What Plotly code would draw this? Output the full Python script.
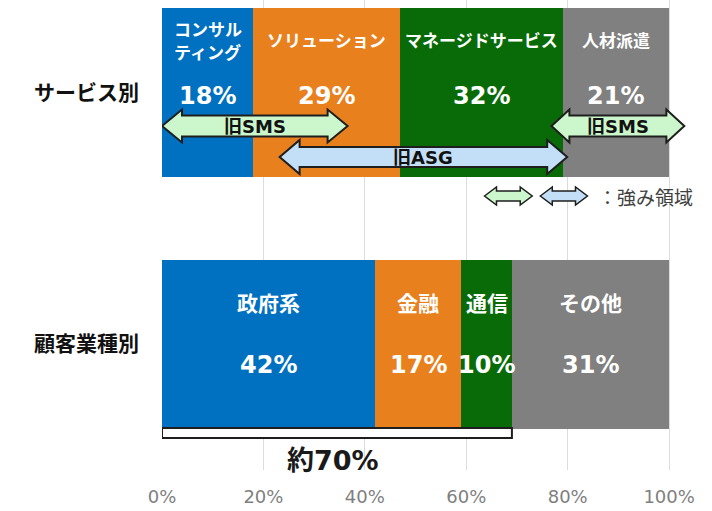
import plotly.graph_objects as go

# --- data -------------------------------------------------------------
rows = ["サービス別", "顧客業種別"]

service_names = [["コンサル", "ティング"], ["ソリューション"], ["マネージドサービス"], ["人材派遣"]]
service_share = [0.18, 0.29, 0.32, 0.21]

client_names = [["政府系"], ["金融"], ["通信"], ["その他"]]
client_share = [0.42, 0.17, 0.10, 0.31]

seg_colors = ["#0070C0", "#E8801E", "#086B08", "#808080"]

# spans of the strength areas (fraction of total)
sms_left = (0.0, 0.366)
asg_span = (0.232, 0.799)
sms_right = (0.768, 1.030)

bracket_label = "約70%"
key_label = "：強み領域"

tick_vals = [0, 0.2, 0.4, 0.6, 0.8, 1.0]

# --- geometry helpers -------------------------------------------------
PX_X = 508.0      # pixels per unit on x
PX_Y = 251.5      # pixels per row on y
ROW0_PX = 92.5    # pixel centre of first row


def ypx(p):
    return (p - ROW0_PX) / PX_Y


def dx(p):
    return p / PX_X


def arrow_path(x0, x1, yc, head_half, shaft_half, head_len):
    pts = [
        (x0, yc),
        (x0 + head_len, yc - head_half),
        (x0 + head_len, yc - shaft_half),
        (x1 - head_len, yc - shaft_half),
        (x1 - head_len, yc - head_half),
        (x1, yc),
        (x1 - head_len, yc + head_half),
        (x1 - head_len, yc + shaft_half),
        (x0 + head_len, yc + shaft_half),
        (x0 + head_len, yc + head_half),
    ]
    return "M " + " L ".join(f"{x:.4f},{y:.4f}" for x, y in pts) + " Z"


FONT = "DejaVu Sans, Noto Sans CJK JP, sans-serif"
CJK = "Noto Sans CJK JP, DejaVu Sans, sans-serif"

fig = go.Figure()

for i in range(4):
    fig.add_trace(go.Bar(
        x=[service_share[i], client_share[i]],
        y=[0, 1],
        orientation="h",
        marker=dict(color=seg_colors[i], line=dict(width=0)),
        width=0.672,
        hoverinfo="skip",
        showlegend=False,
    ))

annotations = []
shapes = []


def label_row(names, shares, row, name_px, pct_px, name_size, line_gap):
    start = 0.0
    for lines, share in zip(names, shares):
        cx = start + share / 2
        n = len(lines)
        for k, line in enumerate(lines):
            off = name_px + (k - (n - 1) / 2) * line_gap
            annotations.append(dict(
                x=cx, y=row + ypx(ROW0_PX + off), xref="x", yref="y",
                text=line, showarrow=False,
                font=dict(family=CJK, size=name_size, color="white", weight="bold"),
            ))
        annotations.append(dict(
            x=cx, y=row + ypx(ROW0_PX + pct_px), xref="x", yref="y",
            text=f"{round(share * 100)}%", showarrow=False,
            font=dict(family=FONT, size=24, color="white", weight="bold"),
        ))
        start += share


label_row(service_names, service_share, 0, -53, 3, 17, 23)
label_row(client_names, client_share, 1, -42, 21, 21, 24)

# strength-area arrows
GREEN_FILL = "#CCF7CC"
BLUE_FILL = "#C3DFF7"
OUTLINE = "#1E1E1E"

arrow_specs = [
    (asg_span, 157, 17, 10, 20, BLUE_FILL, "旧ASG"),
    (sms_left, 126, 16.5, 10.5, 20, GREEN_FILL, "旧SMS"),
    (sms_right, 126, 16.5, 10.5, 18, GREEN_FILL, "旧SMS"),
]
for (a, b), cy, hh, sh, hl, fill, txt in arrow_specs:
    yc = ypx(cy)
    shapes.append(dict(
        type="path", xref="x", yref="y", layer="above",
        path=arrow_path(a, b, yc, hh / PX_Y, sh / PX_Y, dx(hl)),
        fillcolor=fill, line=dict(color=OUTLINE, width=2),
    ))
    annotations.append(dict(
        x=(a + b) / 2, y=yc, xref="x", yref="y", text=txt, showarrow=False,
        font=dict(family=FONT, size=18, color="#111111", weight="bold"),
    ))

# key for the arrows
key_y = ypx(196)
for (a, b), fill in [((0.636, 0.730), GREEN_FILL), ((0.746, 0.839), BLUE_FILL)]:
    shapes.append(dict(
        type="path", xref="x", yref="y", layer="above",
        path=arrow_path(a, b, key_y, 9 / PX_Y, 5 / PX_Y, dx(12)),
        fillcolor=fill, line=dict(color=OUTLINE, width=1.5),
    ))
annotations.append(dict(
    x=0.856, y=key_y, xref="x", yref="y", xanchor="left",
    text=key_label, showarrow=False,
    font=dict(family=CJK, size=19, color="#404040"),
))

# bracket under the top three client segments
top3 = sum(client_share[:3])
b_top = 1 + ypx(ROW0_PX + 84)
b_bot = 1 + ypx(ROW0_PX + 94)
shapes.append(dict(
    type="path", xref="x", yref="y", layer="above",
    path=f"M 0,{b_top:.4f} L 0,{b_bot:.4f} L {top3:.4f},{b_bot:.4f} L {top3:.4f},{b_top:.4f} Z",
    fillcolor="white", line=dict(color="#1E1E1E", width=2),
))
annotations.append(dict(
    x=top3 / 2 - 0.008, y=1 + ypx(ROW0_PX + 116), xref="x", yref="y",
    text=bracket_label, showarrow=False,
    font=dict(family=FONT, size=27, color="#1A1A1A", weight="bold"),
))

fig.update_layout(
    width=712, height=511,
    margin=dict(l=162, r=712 - 162 - int(1.055 * PX_X), t=0, b=41),
    barmode="stack",
    bargap=0,
    plot_bgcolor="white",
    paper_bgcolor="white",
    annotations=annotations,
    shapes=shapes,
    xaxis=dict(
        range=[0, 1.055],
        tickvals=tick_vals,
        tickformat=".0%",
        showgrid=True, gridcolor="#DCDCDC", gridwidth=1,
        zeroline=False, showline=False, ticks="",
        tickfont=dict(family=FONT, size=18, color="#7F7F7F"),
        ticklabelstandoff=14,
    ),
    yaxis=dict(
        range=[ypx(470), ypx(0)],
        tickvals=[0, 1],
        ticktext=rows,
        showgrid=False, zeroline=False, showline=False, ticks="",
        tickfont=dict(family=CJK, size=21, color="#111111", weight="bold"),
        ticklabelstandoff=22,
    ),
)

fig.write_html("out.html")
